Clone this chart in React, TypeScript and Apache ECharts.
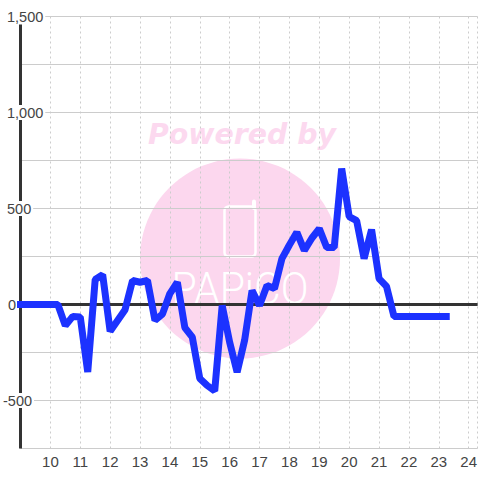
import React, { useEffect, useRef } from "react";
import * as echarts from "echarts";

const hours = [
  9, 9.25, 9.5, 9.75, 10, 10.25, 10.5, 10.75, 11, 11.25, 11.5, 11.75, 12, 12.25, 12.5, 12.75,
  13, 13.25, 13.5, 13.75, 14, 14.25, 14.5, 14.75, 15, 15.25, 15.5, 15.75, 16, 16.25, 16.5, 16.75,
  17, 17.25, 17.5, 17.75, 18, 18.25, 18.5, 18.75, 19, 19.25, 19.5, 19.75, 20, 20.25, 20.5, 20.75,
  21, 21.25, 21.5, 21.75, 22, 22.25, 22.5, 22.75, 23, 23.25,
];
const values = [
  0, 0, 0, 0, 0, 0, -110, -62, -65, -352, 130, 155, -139, -83, -27, 125,
  116, 125, -83, -50, 57, 116, -120, -170, -385, -422, -450, -5, -196, -352, -187, 73,
  -5, 99, 83, 239, 310, 376, 281, 345, 395, 297, 297, 708, 458, 437, 239, 390,
  135, 94, -62, -62, -62, -62, -62, -62, -62, -62,
];
const xMin = 9;
const xMax = 24.3;
const yMin = -750;
const yMax = 1500;
const yAxisBarTop = 1458;

const lineBlue = "#1c32ff";
const dark = "#333333";
const grid = "#cccccc";
const pink = "#fcd7ee";
const labelFont = "'Liberation Sans', Arial, sans-serif";

export default function App() {
  const ref = useRef<HTMLDivElement>(null);
  useEffect(() => {
    const chart = echarts.init(ref.current!, undefined, { renderer: "svg" });
    const labelBase = { fontFamily: labelFont, fontSize: 14.5, color: "#444444" };
    chart.setOption({
      animation: false,
      grid: { left: 20.5, top: 16.5, width: 459.5, height: 432, containLabel: false },
      xAxis: {
        type: "value",
        min: xMin,
        max: xMax,
        interval: 1,
        axisLine: { show: false },
        axisTick: { show: false },
        axisLabel: {
          ...labelBase,
          fontSize: 15,
          margin: 5,
          showMinLabel: false,
          showMaxLabel: false,
          hideOverlap: false,
          formatter: (v: number) => (Number.isInteger(v) ? String(v) : ""),
        },
        splitLine: { show: true, lineStyle: { color: grid, type: [2, 3], width: 1 } },
      },
      yAxis: [
        {
          type: "value",
          min: yMin,
          max: yMax,
          interval: 250,
          axisLine: { show: false },
          axisTick: { show: false },
          axisLabel: { show: false },
          splitLine: { show: true, lineStyle: { color: grid, width: 1 } },
        },
        {
          type: "value",
          position: "left",
          min: yMin,
          max: yMax,
          interval: 250,
          z: 10,
          axisLine: { show: false },
          axisTick: { show: false },
          splitLine: { show: false },
          axisLabel: {
            margin: 17.5,
            align: "left",
            showMinLabel: true,
            showMaxLabel: true,
            formatter: (v: number) => {
              if (v % 500 !== 0) return "";
              if (v === 0) return "{s5|}{n|0}";
              const t = v.toLocaleString("en-US");
              return v < 0 ? `{b|${t}}` : `{s4|}{b|${t}}`;
            },
            rich: {
              s4: { width: 4 },
              s5: { width: 5 },
              n: { ...labelBase },
              b: { ...labelBase, backgroundColor: "#ffffff", padding: [0, 2, 0, 0], lineHeight: 13 },
            },
          },
        },
      ],
      graphic: {
        z: -10,
        elements: [
          { type: "circle", z: -10, shape: { cx: 240, cy: 258.5, r: 100 }, style: { fill: pink } },
          {
            type: "text", z: -10, x: 242, y: 134,
            style: {
              text: "Powered by", fill: "#fcd9ef",
              font: "italic bold 28.4px 'DejaVu Sans'", align: "center", verticalAlign: "middle",
            },
          },
          {
            type: "rect", z: -9, shape: { x: 224.5, y: 206.5, width: 31, height: 50, r: 4 },
            style: { fill: "none", stroke: "#ffffff", lineWidth: 2.5 },
          },
          {
            type: "line", z: -9, shape: { x1: 254, y1: 201.5, x2: 254, y2: 208 },
            style: { stroke: "#ffffff", lineWidth: 4, lineCap: "round" },
          },
          {
            type: "text", z: -9, x: 240, y: 289, scaleX: 0.91,
            style: {
              text: "PAPiCO", fill: "#ffffff",
              font: "300 45px Roboto", align: "center", verticalAlign: "middle",
            },
          },
        ],
      },
      series: [
        {
          type: "line",
          z: 1,
          data: [],
          silent: true,
          markLine: {
            silent: true,
            symbol: "none",
            label: { show: false },
            emphasis: { disabled: true },
            lineStyle: { color: dark, width: 3, type: "solid" },
            data: [
              [{ coord: [xMin, 0] }, { coord: [xMax, 0] }],
              [{ coord: [xMin, yAxisBarTop] }, { coord: [xMin, yMin] }],
            ],
          },
        },
        {
          type: "line",
          z: 20,
          showSymbol: false,
          symbol: "none",
          silent: true,
          clip: false,
          data: hours.map((h, i) => [h, values[i]]),
          lineStyle: { color: lineBlue, width: 7, cap: "square", join: "bevel" },
        },
      ],
    });
    return () => chart.dispose();
  }, []);
  return <div ref={ref} style={{ position: "absolute", left: 0, top: 0, width: 480, height: 480 }} />;
}
